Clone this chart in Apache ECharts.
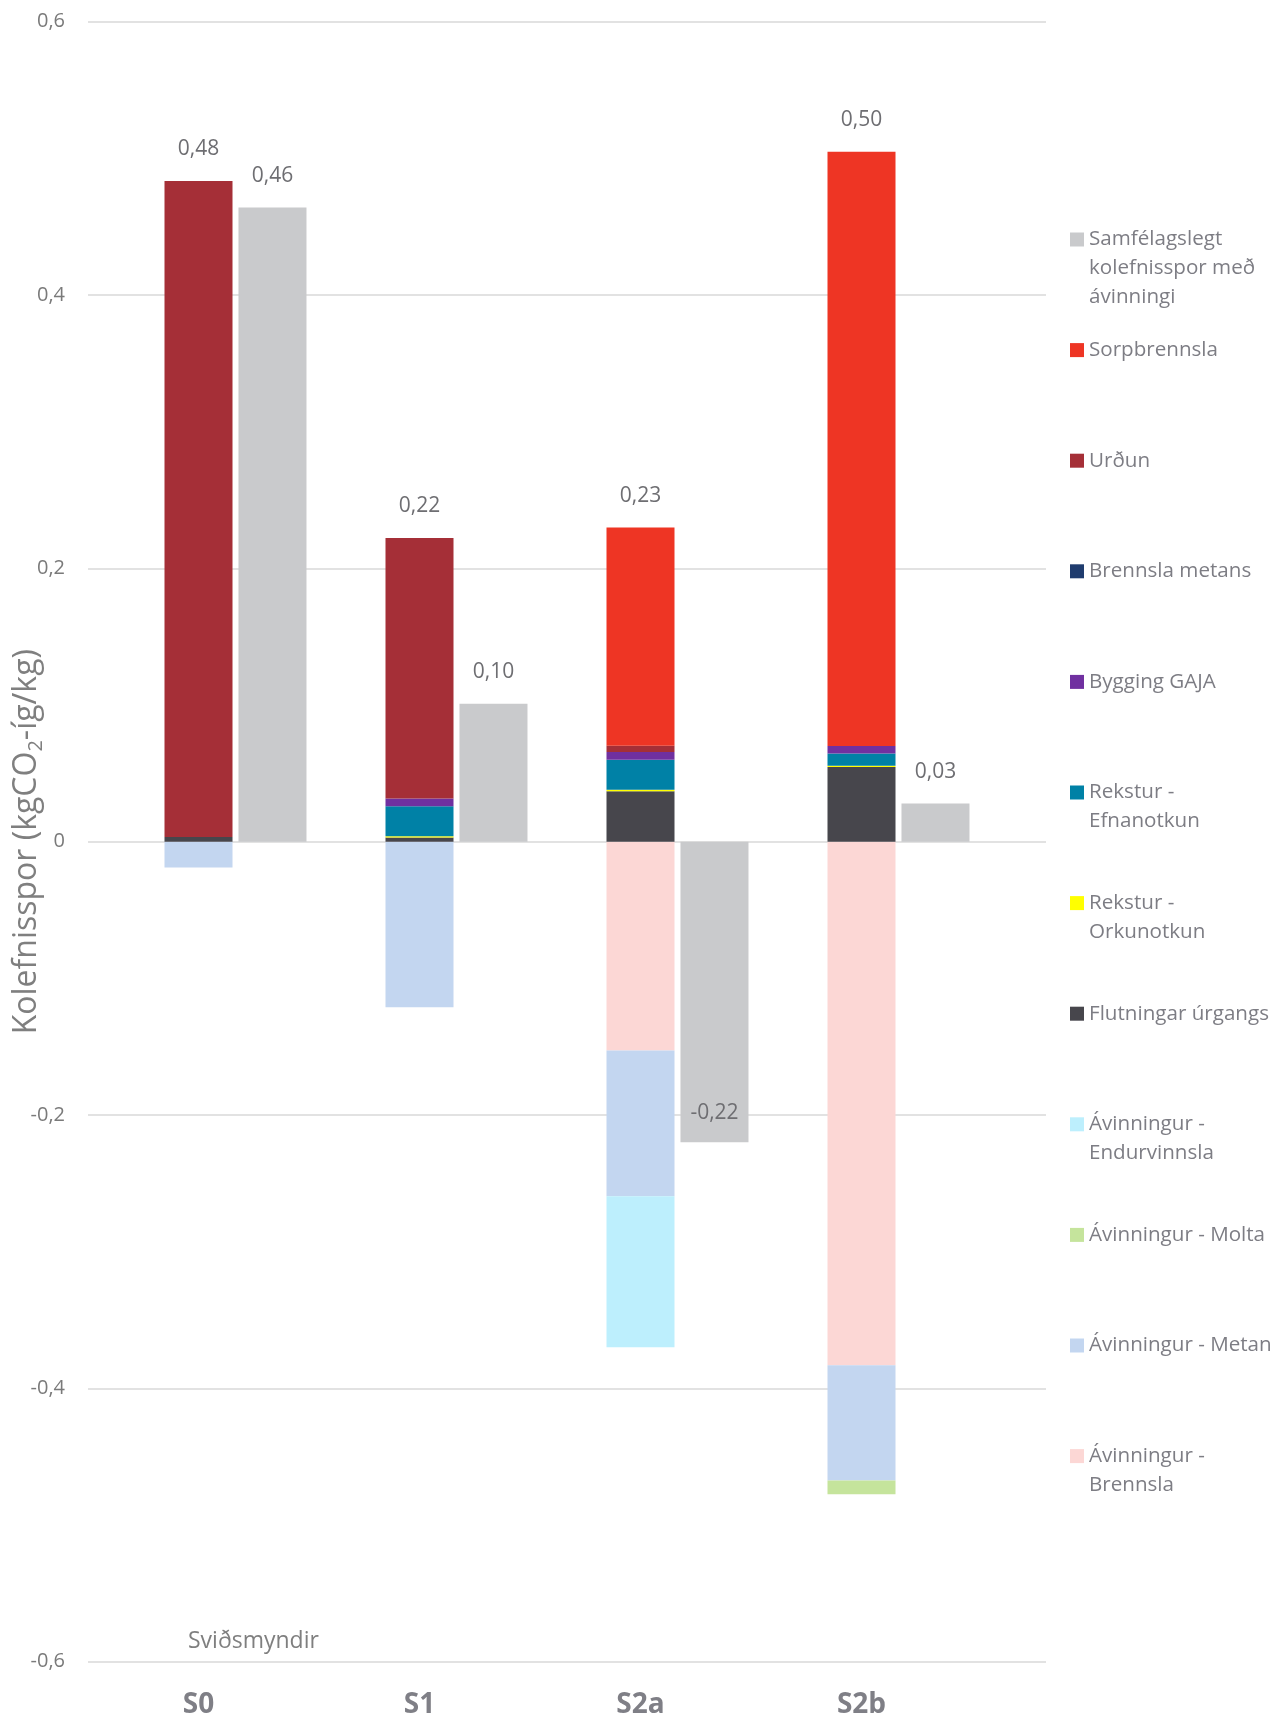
<!DOCTYPE html>
<html>
<head>
<meta charset="utf-8">
<script src="https://cdn.jsdelivr.net/npm/echarts@6/dist/echarts.min.js"></script>
<style>
html,body{margin:0;padding:0;background:#ffffff;}
#chart{width:1280px;height:1717px;}
</style>
</head>
<body>
<div id="chart"></div>
<script>
// ---- data (kgCO2-íg/kg) ----
const categories = ['S0', 'S1', 'S2a', 'S2b'];
const flutningar      = [0.0035, 0.003, 0.037, 0.0547];   // Flutningar úrgangs
const orkunotkun      = [0, 0.001, 0.001, 0.0008];        // Rekstur - Orkunotkun
const efnanotkun      = [0, 0.022, 0.022, 0.009];         // Rekstur - Efnanotkun
const bygging         = [0, 0.0056, 0.0056, 0.0056];      // Bygging GAJA
const brennslaMetans  = [0, 0, 0, 0];                     // Brennsla metans
const urdun           = [0.480, 0.1907, 0.0046, 0];       // Urðun
const sorpbrennsla    = [0, 0, 0.1597, 0.4347];           // Sorpbrennsla
const avEndurvinnsla  = [0, 0, -0.1105, 0];               // Ávinningur - Endurvinnsla
const avMolta         = [0, 0, 0, -0.010];                // Ávinningur - Molta
const avMetan         = [-0.0188, -0.1212, -0.1068, -0.0844]; // Ávinningur - Metan
const avBrennsla      = [0, 0, -0.1527, -0.383];          // Ávinningur - Brennsla
const samfelagslegt   = [0.464, 0.101, -0.22, 0.028];     // Samfélagslegt kolefnisspor með ávinningi
const yTickLabels = ['-0,6', '-0,4', '-0,2', '0', '0,2', '0,4', '0,6'];

// ---- styling ----
const FONT = '"Open Sans", "Noto Sans", sans-serif';
const LABEL_COLOR = '#6e6e72';
const fmt = v => v.toFixed(2).replace('.', ',');

const stackDefs = [
  { name: 'Ávinningur - Brennsla', data: avBrennsla, color: '#FCD7D5' },
  { name: 'Ávinningur - Metan', data: avMetan, color: '#C3D6F0' },
  { name: 'Ávinningur - Molta', data: avMolta, color: '#C5E49C' },
  { name: 'Ávinningur - Endurvinnsla', data: avEndurvinnsla, color: '#BDEFFD' },
  { name: 'Flutningar úrgangs', data: flutningar, color: '#47464C' },
  { name: 'Rekstur - Orkunotkun', data: orkunotkun, color: '#FFFF00' },
  { name: 'Rekstur - Efnanotkun', data: efnanotkun, color: '#0081A6' },
  { name: 'Bygging GAJA', data: bygging, color: '#7030A0' },
  { name: 'Brennsla metans', data: brennslaMetans, color: '#1F3C6E' },
  { name: 'Urðun', data: urdun, color: '#A52F37' },
  { name: 'Sorpbrennsla', data: sorpbrennsla, color: '#EE3524' }
];
const grayName = 'Samfélagslegt kolefnisspor með ávinningi';
const grayColor = '#C9CACC';

// total of the positive part of each stack (for the value labels above stacks)
const positiveTotals = categories.map((c, i) =>
  stackDefs.reduce((s, d) => s + (d.data[i] > 0 ? d.data[i] : 0), 0));

const series = [];
stackDefs.forEach(d => {
  series.push({
    name: d.name, type: 'bar', stack: 'total', xAxisIndex: 0, yAxisIndex: 0,
    barWidth: 68, data: d.data, itemStyle: { color: d.color },
    emphasis: { disabled: true }
  });
});
// placeholders to offset the gray bar to the right of the stack
['_pad1', '_pad2'].forEach(n => {
  series.push({ name: n, type: 'bar', xAxisIndex: 1, yAxisIndex: 0, barWidth: 68, barGap: '8.8%', data: [] });
});
series.push({
  name: grayName, type: 'bar', xAxisIndex: 1, yAxisIndex: 0, barWidth: 68, barGap: '8.8%',
  itemStyle: { color: grayColor }, emphasis: { disabled: true },
  label: { show: true, position: 'top', distance: 21, color: LABEL_COLOR, fontSize: 21, fontFamily: FONT,
           formatter: p => fmt(p.value) },
  data: samfelagslegt.map(v => v < 0
    ? { value: v, label: { position: 'insideBottom', distance: 19 } }
    : v)
});
series.push({
  name: '_totals', type: 'bar', xAxisIndex: 2, yAxisIndex: 0, barWidth: 68, silent: true,
  itemStyle: { color: 'rgba(0,0,0,0)' },
  label: { show: true, position: 'top', distance: 21, color: LABEL_COLOR, fontSize: 21, fontFamily: FONT,
           formatter: p => fmt(p.value) },
  data: positiveTotals
});

// legend: one component per item so they sit at the reference's evenly spaced slots
const legendItems = [
  [grayName, ['Samfélagslegt', 'kolefnisspor með', 'ávinningi']],
  ['Sorpbrennsla', ['Sorpbrennsla']],
  ['Urðun', ['Urðun']],
  ['Brennsla metans', ['Brennsla metans']],
  ['Bygging GAJA', ['Bygging GAJA']],
  ['Rekstur - Efnanotkun', ['Rekstur -', 'Efnanotkun']],
  ['Rekstur - Orkunotkun', ['Rekstur -', 'Orkunotkun']],
  ['Flutningar úrgangs', ['Flutningar úrgangs']],
  ['Ávinningur - Endurvinnsla', ['Ávinningur -', 'Endurvinnsla']],
  ['Ávinningur - Molta', ['Ávinningur - Molta']],
  ['Ávinningur - Metan', ['Ávinningur - Metan']],
  ['Ávinningur - Brennsla', ['Ávinningur -', 'Brennsla']]
];
const LH = 29;
const legends = legendItems.map((it, i) => {
  const lines = it[1];
  const n = lines.length;
  const text = new Array(n - 1).fill('').concat(lines).join('\n');
  const center = 239.5 + 110.6 * i;
  return {
    orient: 'vertical', left: 1070, top: center - (2 * n - 1) * LH / 2, padding: 0,
    itemWidth: 14, itemHeight: 14, icon: 'rect', selectedMode: false,
    data: [it[0]],
    formatter: () => text,
    textStyle: { color: '#7d7d84', fontSize: 20.6, fontFamily: FONT, lineHeight: LH }
  };
});

const option = {
  backgroundColor: '#ffffff',
  animation: false,
  title: {
    text: 'Sviðsmyndir', left: 188, top: 1630, padding: 0,
    textStyle: { fontSize: 23, fontWeight: 'normal', color: '#7f7f7f', fontFamily: FONT }
  },
  legend: legends,
  grid: [
    { left: 88, right: 308, top: 21.7, bottom: 55.3, containLabel: false, outerBoundsMode: 'none' },
    { left: 88, right: 234, top: 21.7, bottom: 55.3, containLabel: false, outerBoundsMode: 'none' }
  ],
  xAxis: [
    { type: 'category', gridIndex: 0, data: categories,
      axisLine: { show: false }, axisTick: { show: false }, splitLine: { show: false },
      axisLabel: { color: '#7f7f86', fontSize: 28, fontWeight: 'bold', fontFamily: FONT, margin: 29 } },
    { type: 'category', gridIndex: 0, data: categories, show: false },
    { type: 'category', gridIndex: 0, data: categories, show: false },
    { type: 'category', gridIndex: 1, data: categories, show: false }
  ],
  yAxis: [
    { type: 'value', gridIndex: 0, min: -0.6, max: 0.6, interval: 0.2, show: false, splitLine: { show: false } },
    { type: 'value', gridIndex: 1, min: -0.6, max: 0.6, interval: 0.2,
      axisLine: { show: false }, axisTick: { show: false },
      splitLine: { show: true, lineStyle: { color: '#e2e2e2', width: 2 } },
      axisLabel: { color: '#7a7a7a', fontSize: 20, fontFamily: FONT, margin: 23,
        formatter: (v) => yTickLabels[Math.round((v + 0.6) / 0.2)] },
      name: 'Kolefnisspor (kgCO{sub|2}-íg/kg)',
      nameLocation: 'middle', nameRotate: 90, nameGap: 42, nameMoveOverlap: false,
      nameTextStyle: { color: '#7f7f7f', fontSize: 32, fontFamily: FONT,
        rich: { sub: { fontSize: 20, color: '#7f7f7f', fontFamily: FONT, verticalAlign: 'bottom', padding: [18, 0, 0, 0] } } } }
  ],
  series: series
};

const chart = echarts.init(document.getElementById('chart'), null, { renderer: 'canvas' });
chart.setOption(option);
</script>
</body>
</html>
